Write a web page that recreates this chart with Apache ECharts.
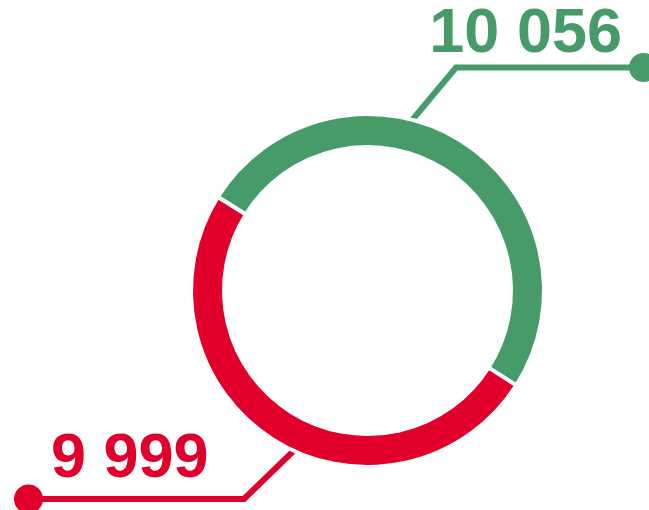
<!DOCTYPE html>
<html>
<head>
<meta charset="utf-8">
<script src="https://cdn.jsdelivr.net/npm/echarts@6/dist/echarts.min.js"></script>
<style>html,body{margin:0;padding:0;background:#fff;}#c{width:649px;height:510px;}</style>
</head>
<body>
<div id="c"></div>
<script>
const categories = ['Green', 'Red'];
const values = [10056, 9999];
const colors = ['#479b69', '#e1002b'];

const CX = 367.5, CY = 290.5, R_IN = 143.5, R_OUT = 176.5, R_EDGE = 174.5;
// label layout: anchor angle on ring, elbow, line end, text anchor
const layouts = [
  { angle: 75.6, elbow: [456, 67.5], end: [643.5, 67.5], text: [622, 35], align: 'right' },
  { angle: 245.5, elbow: [244, 499], end: [28.5, 499], text: [51, 460], align: 'left' }
];

function fmt(v) {
  return String(v).replace(/\B(?=(\d{3})+(?!\d))/g, ' ');
}

const chart = echarts.init(document.getElementById('c'), null, { renderer: 'canvas' });
chart.setOption({
  animation: false,
  backgroundColor: '#ffffff',
  graphic: layouts.map((l, i) => ({
    type: 'circle', z: 100,
    shape: { cx: l.end[0], cy: l.end[1], r: 14.5 },
    style: { fill: colors[i] }
  })),
  series: [{
    type: 'pie',
    center: [CX, CY],
    radius: [R_IN, R_OUT],
    startAngle: 148,
    clockwise: true,
    avoidLabelOverlap: false,
    itemStyle: { borderColor: '#ffffff', borderWidth: 4 },
    emphasis: { disabled: true },
    label: {
      show: true,
      position: 'outside',
      formatter: p => fmt(p.value),
      fontFamily: 'Liberation Sans, Arial, sans-serif',
      fontWeight: 'bold',
      fontSize: 63,
      lineHeight: 63,
      color: 'inherit'
    },
    labelLine: { show: true, smooth: false, lineStyle: { width: 6 } },
    labelLayout: function (p) {
      const l = layouts[p.dataIndex];
      const a = l.angle * Math.PI / 180;
      const ax = CX + R_EDGE * Math.cos(a), ay = CY - R_EDGE * Math.sin(a);
      return {
        x: l.text[0], y: l.text[1],
        align: l.align, verticalAlign: 'middle',
        labelLinePoints: [[ax, ay], l.elbow, l.end]
      };
    },
    data: categories.map((c, i) => ({
      name: c, value: values[i],
      itemStyle: { color: colors[i] },
      label: { color: colors[i] },
      labelLine: { lineStyle: { color: colors[i] } }
    }))
  }]
});
</script>
</body>
</html>
